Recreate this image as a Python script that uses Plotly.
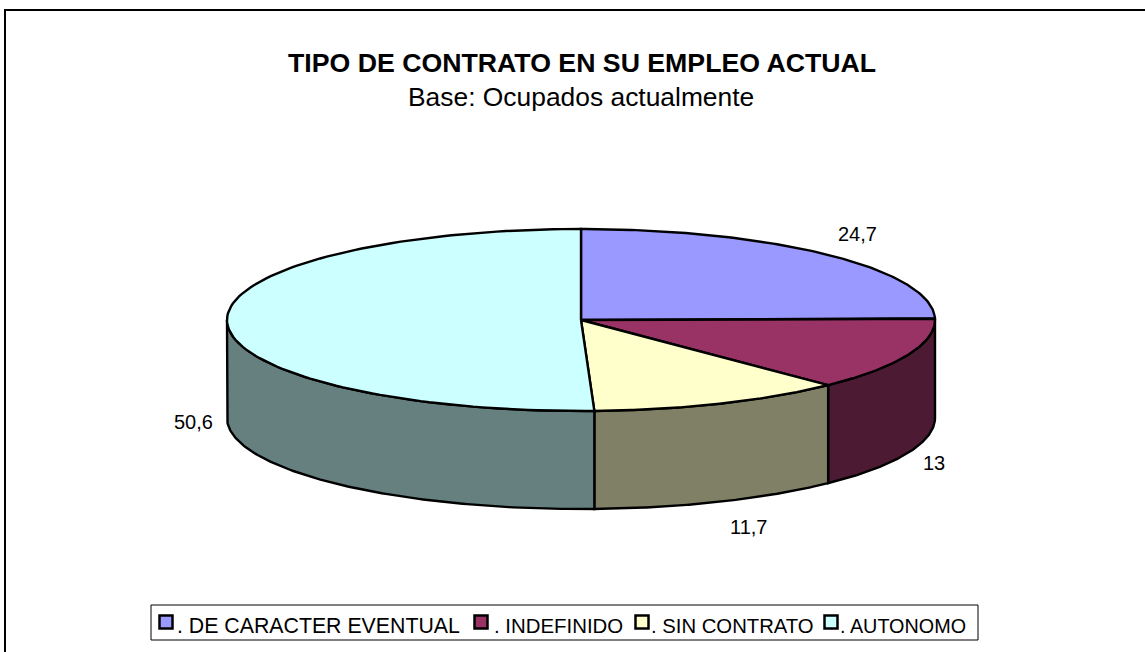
import numpy as np
import plotly.graph_objects as go

# data
categories = [". DE CARACTER EVENTUAL", ". INDEFINIDO", ". SIN CONTRATO", ". AUTONOMO"]
values = [24.7, 13, 11.7, 50.6]
top_colors = ["#9999FF", "#993366", "#FFFFCC", "#CCFFFF"]
side_colors = ["#4D4D80", "#4D1A33", "#808066", "#668080"]

title_text = "<b>TIPO DE CONTRATO EN SU EMPLEO ACTUAL</b>"
subtitle_text = "Base: Ocupados actualmente"

# pie geometry, in page pixels
cx, cy = 581, 320
rx, ry = 354, 91
depth = 98

label_pos = [(857, 234), (934, 463), (748, 527), (193, 422)]
legend_marker_x = [166, 481, 642, 831]
legend_text_x = [175, 492, 649, 838]
legend_font = [21.3, 20.4, 20.3, 19.8]
FONT = "Liberation Sans, Arial, sans-serif"
EDGE = 2.4


def arc(a0, a1, dy=0):
    # angles in degrees clockwise from 12 o'clock
    t = np.radians(np.linspace(a0, a1, 120))
    return cx + rx * np.sin(t), cy - ry * np.cos(t) + dy


fig = go.Figure()

edges = np.cumsum([0] + values) / sum(values) * 360

# rim of the disc, only the front half (90-270 deg) can be seen
for i in range(len(values)):
    a0 = max(edges[i], 90)
    a1 = min(edges[i + 1], 270)
    if a1 <= a0:
        continue
    x0, y0 = arc(a0, a1)
    x1, y1 = arc(a0, a1, depth)
    fig.add_trace(go.Scatter(
        x=np.r_[x0, x1[::-1], x0[0]], y=np.r_[y0, y1[::-1], y0[0]],
        mode="lines", fill="toself", fillcolor=side_colors[i],
        line=dict(color="black", width=EDGE), hoverinfo="skip", showlegend=False))

# top of the slices
for i in range(len(values)):
    x0, y0 = arc(edges[i], edges[i + 1])
    fig.add_trace(go.Scatter(
        x=np.r_[cx, x0, cx], y=np.r_[cy, y0, cy],
        mode="lines", fill="toself", fillcolor=top_colors[i],
        line=dict(color="black", width=EDGE), name=categories[i], showlegend=False))

# legend keys
fig.add_trace(go.Scatter(
    x=legend_marker_x, y=[622] * 4, mode="markers",
    marker=dict(symbol="square", size=13, color=top_colors, line=dict(color="black", width=2.5)),
    hoverinfo="skip", showlegend=False))

annotations = []
for (lx, ly), v in zip(label_pos, values):
    annotations.append(dict(x=lx, y=ly, text=f"{v:g}".replace(".", ","),
                            font=dict(size=20, color="black", family=FONT)))
for tx, name, fs in zip(legend_text_x, categories, legend_font):
    annotations.append(dict(x=tx, y=626, text=name, xanchor="left",
                            font=dict(size=fs, color="black", family=FONT)))
annotations.append(dict(x=582, y=63, text=title_text, font=dict(size=26.7, color="black", family=FONT)))
annotations.append(dict(x=581, y=97, text=subtitle_text, font=dict(size=26.4, color="black", family=FONT)))
for a in annotations:
    a.update(xref="x", yref="y", showarrow=False, yanchor="middle", xanchor=a.get("xanchor", "center"))

fig.update_layout(
    width=1145, height=652,
    margin=dict(l=0, r=0, t=0, b=0),
    paper_bgcolor="white", plot_bgcolor="white",
    showlegend=False,
    xaxis=dict(range=[0, 1145], visible=False),
    yaxis=dict(range=[652, 0], visible=False),
    annotations=annotations,
    shapes=[
        # chart frame, runs off the bottom of the page
        dict(type="rect", xref="x", yref="y", x0=5, y0=10, x1=1160, y1=670,
             line=dict(color="black", width=2), layer="below"),
        # legend box
        dict(type="rect", xref="x", yref="y", x0=151, y0=605, x1=978, y1=640,
             line=dict(color="black", width=1), layer="below"),
    ],
)

# page margin would push the plot 8px off
fig.write_html("out.html", config=dict(displayModeBar=False),
               post_script="document.body.style.margin='0';document.body.style.overflow='hidden';")
